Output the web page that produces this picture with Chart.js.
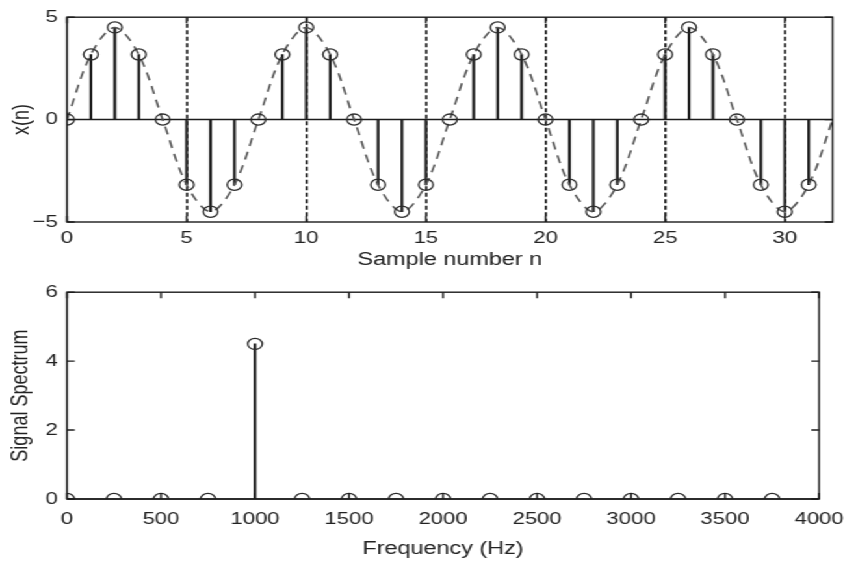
<!DOCTYPE html>
<html>
<head>
<meta charset="utf-8">
<title>x(n) and its spectrum</title>
<script src="https://cdn.jsdelivr.net/npm/chart.js@4.4.1/dist/chart.umd.min.js"></script>
<style>
  html, body { margin: 0; padding: 0; background: #fff; }
  /* the original figure is stretched sideways, so draw narrow and widen */
  #wrap { position: relative; width: 659px; height: 562px; transform: scaleX(1.3); transform-origin: 0 0; }
  #wrap canvas { position: absolute; left: 0; }
  #top { top: 0; }
  #bottom { top: 275px; }
</style>
</head>
<body>
<div id="wrap">
  <canvas id="top" width="659" height="275"></canvas>
  <canvas id="bottom" width="659" height="287"></canvas>
</div>
<script>
// top plot: samples of x(n)
const sampleN = [0, 1, 2, 3, 4, 5, 6, 7, 8, 9, 10, 11, 12, 13, 14, 15,
  16, 17, 18, 19, 20, 21, 22, 23, 24, 25, 26, 27, 28, 29, 30, 31];
const sampleX = [0, 3.18, 4.5, 3.18, 0, -3.18, -4.5, -3.18,
  0, 3.18, 4.5, 3.18, 0, -3.18, -4.5, -3.18,
  0, 3.18, 4.5, 3.18, 0, -3.18, -4.5, -3.18,
  0, 3.18, 4.5, 3.18, 0, -3.18, -4.5, -3.18];
// dashed analog trace runs one step further, to the right edge
const traceN = sampleN.concat([32]);
const traceX = sampleX.concat([0]);
const topXTicks = [0, 5, 10, 15, 20, 25, 30];
const topYTicks = [-5, 0, 5];
const dashedAt = [5, 10, 15, 20, 25, 30];

// bottom plot: spectrum
const freqHz = [0, 250, 500, 750, 1000, 1250, 1500, 1750,
  2000, 2250, 2500, 2750, 3000, 3250, 3500, 3750];
const spectrum = [0, 0, 0, 0, 4.5, 0, 0, 0, 0, 0, 0, 0, 0, 0, 0, 0];
const freqTicks = [0, 500, 1000, 1500, 2000, 2500, 3000, 3500, 4000];
const specTicks = [0, 2, 4, 6];

Chart.defaults.font.family = "'Liberation Sans', Arial, sans-serif";
Chart.defaults.font.size = 17;
Chart.defaults.color = '#222';
Chart.defaults.animation = false;
Chart.defaults.plugins.legend.display = false;
Chart.defaults.plugins.tooltip.enabled = false;

const INK = '#1c1c1c';
const titleFont = { size: 18 };

const toPoints = (xs, ys) => xs.map((x, i) => ({ x: x, y: ys[i] }));
const fixTicks = (values) => (scale) => {
  scale.ticks = values.map((v) => ({ value: v }));
};
// plain numbers, no thousands separator, real minus sign
const plain = (v) => String(v).replace('-', '\u2212');

// box round the plot, inward tick marks and the stem baseline
const framePlugin = {
  id: 'frame',
  beforeDatasetsDraw(chart) {
    const { ctx, chartArea: a, scales: { y } } = chart;
    const y0 = y.getPixelForValue(0);
    ctx.save();
    ctx.strokeStyle = INK;
    ctx.lineWidth = 1.5;
    ctx.beginPath();
    ctx.moveTo(a.left, y0);
    ctx.lineTo(a.right, y0);
    ctx.stroke();
    ctx.restore();
  },
  afterDraw(chart) {
    const { ctx, chartArea: a, scales: { x, y } } = chart;
    const len = 6;
    ctx.save();
    ctx.strokeStyle = INK;
    ctx.lineWidth = 1.4;
    ctx.strokeRect(a.left, a.top, a.right - a.left, a.bottom - a.top);
    ctx.beginPath();
    x.ticks.forEach((t) => {
      const px = x.getPixelForValue(t.value);
      ctx.moveTo(px, a.bottom);
      ctx.lineTo(px, a.bottom - len);
      ctx.moveTo(px, a.top);
      ctx.lineTo(px, a.top + len);
    });
    y.ticks.forEach((t) => {
      const py = y.getPixelForValue(t.value);
      ctx.moveTo(a.left, py);
      ctx.lineTo(a.left + len, py);
      ctx.moveTo(a.right, py);
      ctx.lineTo(a.right - len, py);
    });
    ctx.stroke();
    ctx.restore();
  }
};

const stemSet = (xs, ys) => ({
  type: 'bar',
  data: toPoints(xs, ys),
  backgroundColor: INK,
  borderWidth: 0,
  barThickness: 1.5,
  order: 3
});

const markerSet = (xs, ys) => ({
  type: 'line',
  data: toPoints(xs, ys),
  showLine: false,
  pointStyle: 'circle',
  pointRadius: 5.6,
  pointBorderWidth: 1.3,
  pointBorderColor: '#2a2a2a',
  pointBackgroundColor: 'rgba(0,0,0,0)',
  order: 1
});

new Chart(document.getElementById('top'), {
  type: 'bar',
  data: {
    datasets: [
      stemSet(sampleN, sampleX),
      {
        type: 'line',
        data: toPoints(traceN, traceX),
        borderColor: '#555',
        borderWidth: 1.6,
        borderDash: [8, 6],
        tension: 0.33,
        pointRadius: 0,
        order: 2
      },
      markerSet(sampleN, sampleX)
    ]
  },
  options: {
    responsive: false,
    layout: { padding: { top: 13, right: 18.5, left: 0, bottom: 0 } },
    scales: {
      x: {
        type: 'linear',
        min: 0,
        max: 32,
        offset: false,
        afterBuildTicks: fixTicks(topXTicks),
        afterFit: (s) => { s.height = 53; },
        grid: {
          display: true,
          offset: false,
          drawTicks: false,
          lineWidth: 1.7,
          color: (c) => (c.tick && dashedAt.includes(c.tick.value) ? INK : 'rgba(0,0,0,0)')
        },
        border: { display: false, dash: [4, 2.5] },
        ticks: { padding: 6, maxRotation: 0, autoSkip: false, callback: plain },
        title: { display: true, text: 'Sample number n', font: titleFont, padding: { top: 0, bottom: 4 } }
      },
      y: {
        min: -5,
        max: 5,
        afterBuildTicks: fixTicks(topYTicks),
        afterFit: (s) => { s.width = 51.5; },
        grid: { display: false, drawTicks: false },
        border: { display: false },
        ticks: { padding: 7, callback: plain },
        title: { display: true, text: 'x(n)', font: titleFont, padding: { top: 6, bottom: 0 } }
      }
    }
  },
  plugins: [framePlugin]
});

new Chart(document.getElementById('bottom'), {
  type: 'bar',
  data: {
    datasets: [
      stemSet(freqHz, spectrum),
      markerSet(freqHz, spectrum)
    ]
  },
  options: {
    responsive: false,
    layout: { padding: { top: 16, right: 18.5, left: 0, bottom: 0 } },
    scales: {
      x: {
        type: 'linear',
        min: 0,
        max: 4000,
        offset: false,
        afterBuildTicks: fixTicks(freqTicks),
        afterFit: (s) => { s.height = 63; },
        grid: { display: false, drawTicks: false, offset: false },
        border: { display: false },
        ticks: { padding: 10, maxRotation: 0, autoSkip: false, callback: plain },
        title: { display: true, text: 'Frequency (Hz)', font: titleFont, padding: { top: 0, bottom: 2 } }
      },
      y: {
        min: 0,
        max: 6,
        afterBuildTicks: fixTicks(specTicks),
        afterFit: (s) => { s.width = 51.5; },
        grid: { display: false, drawTicks: false },
        border: { display: false },
        ticks: { padding: 7, callback: plain },
        title: { display: true, text: 'Signal Spectrum', font: titleFont, padding: { top: 5, bottom: 0 } }
      }
    }
  },
  plugins: [framePlugin]
});
</script>
</body>
</html>
